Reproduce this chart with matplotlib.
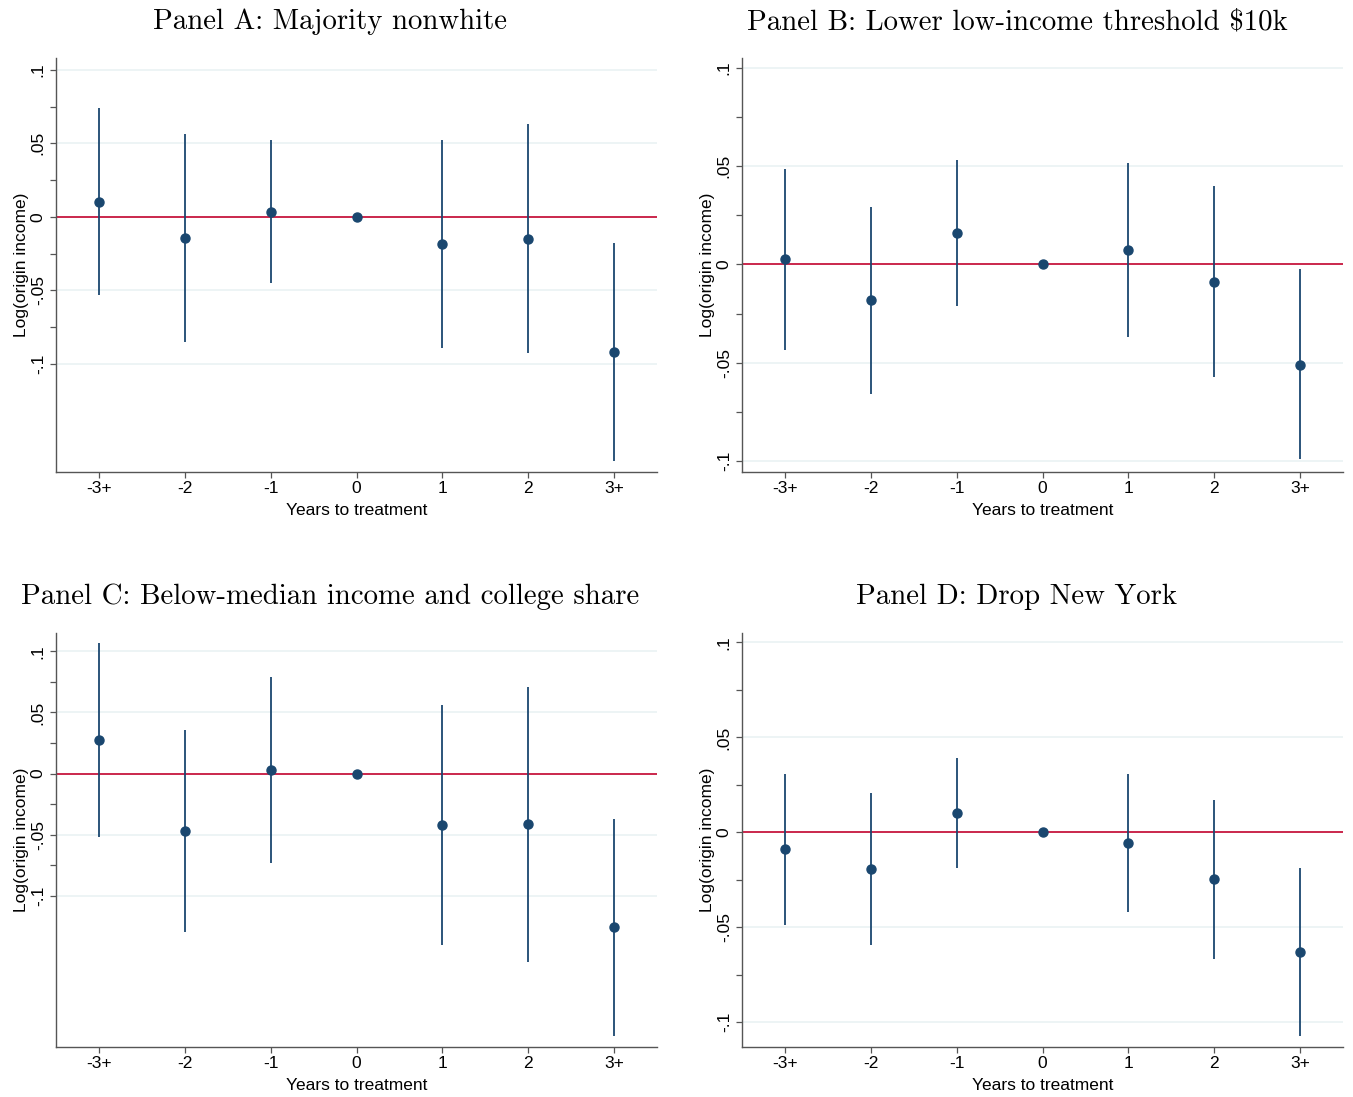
import numpy as np
import matplotlib
matplotlib.use("Agg")
import matplotlib.pyplot as plt

# event-study estimates
periods = [-3, -2, -1, 0, 1, 2, 3]
period_labels = ["-3+", "-2", "-1", "0", "1", "2", "3+"]

titles = [
    "Panel A: Majority nonwhite",
    "Panel B: Lower low-income threshold \\$10k",
    "Panel C: Below-median income and college share",
    "Panel D: Drop New York",
]

coef_a = [0.0104, -0.0142, 0.0036, 0.0, -0.0185, -0.0151, -0.0919]
lo_a = [-0.0533, -0.0847, -0.0449, 0.0, -0.0894, -0.0926, -0.1657]
hi_a = [0.0738, 0.0562, 0.0521, 0.0, 0.0521, 0.0628, -0.0176]

coef_b = [0.0025, -0.0183, 0.0159, 0.0, 0.0073, -0.0090, -0.0510]
lo_b = [-0.0436, -0.0657, -0.0212, 0.0, -0.0370, -0.0573, -0.0990]
hi_b = [0.0483, 0.0292, 0.0529, 0.0, 0.0518, 0.0397, -0.0025]

coef_c = [0.0276, -0.0470, 0.0027, 0.0, -0.0424, -0.0415, -0.1257]
lo_c = [-0.0516, -0.1295, -0.0735, 0.0, -0.1407, -0.1540, -0.2148]
hi_c = [0.1068, 0.0358, 0.0787, 0.0, 0.0560, 0.0708, -0.0372]

coef_d = [-0.0088, -0.0194, 0.0102, 0.0, -0.0056, -0.0246, -0.0630]
lo_d = [-0.0486, -0.0595, -0.0188, 0.0, -0.0417, -0.0664, -0.1072]
hi_d = [0.0308, 0.0210, 0.0393, 0.0, 0.0305, 0.0173, -0.0187]

ylims = [(-0.1734, 0.108), (-0.1056, 0.105), (-0.2238, 0.115), (-0.113, 0.105)]

major_ticks = [-0.1, -0.05, 0, 0.05, 0.1]
major_labels = ["-.1", "-.05", "0", ".05", ".1"]
minor_ticks = [-0.075, -0.025, 0.025, 0.075]

navy = "#1a476f"
red = "#c8173f"
grid_col = "#eaf2f3"
axis_col = "#555555"
sans = "Liberation Sans"
fs = 12.5

W, H = 1353, 1097
fig = plt.figure(figsize=(W / 100, H / 100), dpi=100)

# axes boxes in pixels: left, top
boxes = [(56, 58), (742, 58), (56, 633), (742, 633)]
ax_w, ax_h = 601, 414
title_pos = [(330, 22), (1017, 22), (330, 597), (1017, 597)]

data = [(coef_a, lo_a, hi_a), (coef_b, lo_b, hi_b),
        (coef_c, lo_c, hi_c), (coef_d, lo_d, hi_d)]

for i, (coef, lo, hi) in enumerate(data):
    l, t = boxes[i]
    ax = fig.add_axes([l / W, 1 - (t + ax_h) / H, ax_w / W, ax_h / H])

    for y in major_ticks:
        ax.axhline(y, color=grid_col, lw=1.2, zorder=0)
    ax.axhline(0, color=red, lw=1.3, zorder=1)
    ax.vlines(periods, lo, hi, color=navy, lw=1.3, zorder=2)
    ax.plot(periods, coef, "o", color=navy, ms=6.5, zorder=3)

    ax.set_xlim(-3.5, 3.5)
    ax.set_ylim(*ylims[i])
    ax.set_xticks(periods)
    ax.set_xticklabels(period_labels, fontfamily=sans, fontsize=fs)
    ax.set_yticks(major_ticks)
    ax.set_yticklabels(major_labels, fontfamily=sans, fontsize=fs,
                       rotation=90, va="center")
    ax.set_yticks(minor_ticks, minor=True)

    for s in ["top", "right"]:
        ax.spines[s].set_visible(False)
    for s in ["left", "bottom"]:
        ax.spines[s].set_color(axis_col)
        ax.spines[s].set_linewidth(1.0)
    ax.tick_params(which="both", color=axis_col, length=4.3, width=0.9)
    ax.tick_params(axis="x", pad=2.4)
    ax.tick_params(axis="y", pad=3)

    ax.set_xlabel("Years to treatment", fontfamily=sans, fontsize=fs, labelpad=4.5)
    ax.set_ylabel("Log(origin income)", fontfamily=sans, fontsize=fs, labelpad=1.5)

    tx, ty = title_pos[i]
    fig.text(tx / W, 1 - ty / H, titles[i], family="cmr10", fontsize=20.8,
             ha="center", va="center")

fig.savefig("out.png", dpi=100)
